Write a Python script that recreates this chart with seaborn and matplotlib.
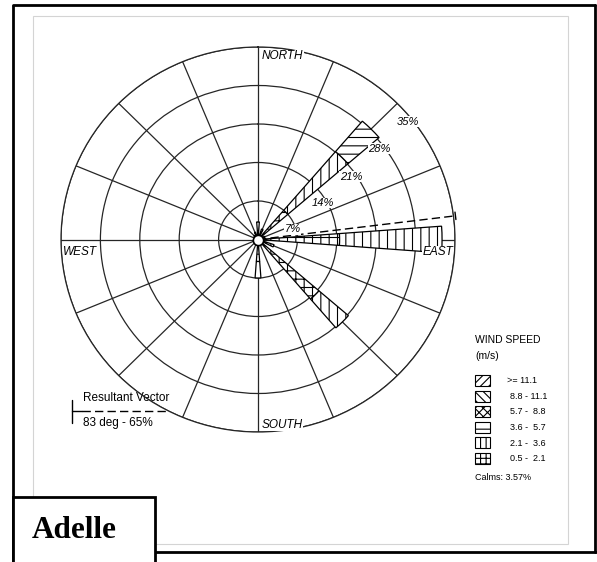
import numpy as np
import matplotlib
matplotlib.use("Agg")
import matplotlib.pyplot as plt
from matplotlib.patches import Rectangle
import seaborn as sns

# ---- data -----------------------------------------------------------------
directions = ["N", "NNE", "NE", "ENE", "E", "ESE", "SE", "SSE",
              "S", "SSW", "SW", "WSW", "W", "WNW", "NW", "NNW"]
# frequency (%) of each wind-speed class per direction (innermost class first)
freq_05_21 = [1.5, 1.0, 7.0, 0.8, 14.5, 1.5, 14.3, 0.7, 4.0, 0.4, 0.3, 0.2, 0.3, 0.3, 0.6, 0.8]
freq_21_36 = [1.7, 1.0, 14.1, 0.5, 18.2, 1.5, 6.9, 0.4, 3.0, 0.0, 0.0, 0.0, 0.0, 0.0, 0.4, 0.6]
freq_36_57 = [0.0, 0.0, 7.3, 0.0, 0.0, 0.0, 0.0, 0.0, 0.0, 0.0, 0.0, 0.0, 0.0, 0.0, 0.0, 0.0]
freq_57_88 = [0.0] * 16
freq_88_111 = [0.0] * 16
freq_ge_111 = [0.0] * 16

class_labels = ["0.5 -  2.1", "2.1 -  3.6", "3.6 -  5.7", "5.7 -  8.8", "8.8 - 11.1", ">= 11.1"]
class_hatches = ["++", "||", "--", "xxx", "\\\\\\", "///"]
legend_hatches = ["+++", "|||", "--", "xxxx", "\\\\\\\\", "////"]
class_freqs = [freq_05_21, freq_21_36, freq_36_57, freq_57_88, freq_88_111, freq_ge_111]

ring_levels = [7, 14, 21, 28, 35]
ring_label_theta = [72.8, 60.2, 55.4, 52.6, 51.2]
ring_label_r = [6.4, 13.35, 20.1, 27.2, 34.2]

calms_pct = 3.57
resultant_deg = 83
resultant_pct = 65
station = "Adelle"

# ---- style ----------------------------------------------------------------
sns.set_theme(style="white")
plt.rcParams["font.family"] = ["Liberation Sans", "DejaVu Sans"]
plt.rcParams["text.color"] = "black"
plt.rcParams["hatch.linewidth"] = 0.8
plt.rcParams["hatch.color"] = "black"

W, H = 597, 562
fig = plt.figure(figsize=(W / 100, H / 100), dpi=100)
fig.patch.set_facecolor("white")

# page-level layer in pixel units for frames and the legend
page = fig.add_axes([0, 0, 1, 1], zorder=0)
page.set_xlim(0, W)
page.set_ylim(H, 0)
page.axis("off")

# outer frame
page.plot([13, 13], [5, 562], color="black", lw=2, solid_capstyle="butt")
page.plot([13, 595], [5, 5], color="black", lw=2)
page.plot([595, 595], [5, 552], color="black", lw=2)
page.plot([155, 597], [552, 552], color="black", lw=2)
# inner light frame
page.add_patch(Rectangle((33, 16), 535, 528, fill=False, ec="#d4d4d4", lw=0.8))
# station box
page.add_patch(Rectangle((13, 497), 142, 70, fc="white", ec="black", lw=2, zorder=3))
page.text(32, 530, station, fontsize=22.5, fontweight="bold", color="black",
          family=["Liberation Serif", "DejaVu Serif"], ha="left", va="center", zorder=4)

# ---- wind rose --------------------------------------------------------------
cx, cy, rx, ry = 258, 239.5, 197, 192.5
ax = fig.add_axes([(cx - rx) / W, (H - cy - ry) / H, 2 * rx / W, 2 * ry / H],
                  projection="polar", zorder=1)
ax.set_aspect("auto")
ax.patch.set_alpha(0)
ax.set_theta_zero_location("N")
ax.set_theta_direction(-1)
ax.set_ylim(0, ring_levels[-1])
ax.set_rgrids(ring_levels, labels=[])
ax.set_thetagrids(np.arange(0, 360, 22.5), labels=[])
ax.grid(True, color="#262626", lw=0.9)
ax.spines["polar"].set_color("#262626")
ax.spines["polar"].set_linewidth(0.9)
ax.set_axisbelow(True)

theta = np.deg2rad(np.arange(16) * 22.5)
width = np.deg2rad(8.5)
bottom = np.zeros(16)
for freqs, hatch in zip(class_freqs, class_hatches):
    vals = np.array(freqs)
    mask = vals > 0
    if mask.any():
        ax.bar(theta[mask], vals[mask], width=width, bottom=bottom[mask],
               facecolor="white", edgecolor="black", linewidth=0.9,
               hatch=hatch, zorder=2)
    bottom = bottom + vals

# resultant vector with an end tick
tr = np.deg2rad(resultant_deg)
r_end = ring_levels[-1] + 0.35
ax.plot([tr, tr], [0, r_end], color="black", lw=1.0,
        ls=(0, (6, 3)), zorder=3, clip_on=False)
dtk = np.deg2rad(1.1)
ax.plot([tr - dtk, tr + dtk], [r_end, r_end], color="black", lw=1.0,
        zorder=3, clip_on=False)

# calms circle
ax.scatter([0], [0], s=55, facecolor="white", edgecolor="black", linewidth=1.2, zorder=5)

# ring labels
for lvl, th, r in zip(ring_levels, ring_label_theta, ring_label_r):
    ax.text(np.deg2rad(th), r, f"{lvl}%", fontsize=8, style="italic",
            ha="center", va="center", zorder=6,
            bbox=dict(fc="white", ec="none", pad=0.3))

# compass labels, drawn above the rose
lab_kw = dict(fontsize=8.5, style="italic", zorder=5, transform=page.transData,
              bbox=dict(fc="white", ec="none", pad=0.2))
fig.text(262, 50, "NORTH", ha="left", va="top", **lab_kw)
fig.text(262, 431, "SOUTH", ha="left", va="bottom", **lab_kw)
fig.text(63, 246, "WEST", ha="left", va="top", **lab_kw)
fig.text(453, 246, "EAST", ha="right", va="top", **lab_kw)

# ---- wind speed legend -------------------------------------------------------
page.text(475, 340, "WIND SPEED", fontsize=7.5, ha="left", va="center")
page.text(475, 356, "(m/s)", fontsize=7.5, ha="left", va="center")
row_top = 375
for i, (lab, hatch) in enumerate(zip(class_labels[::-1], legend_hatches[::-1])):
    y = row_top + i * 15.6
    page.add_patch(Rectangle((475, y), 15, 11, facecolor="white", edgecolor="black",
                             lw=0.8, hatch=hatch))
    page.text(507 if lab.startswith(">") else 510, y + 5.8, lab, fontsize=6.5,
              ha="left", va="center")
page.text(475, 478, f"Calms: {calms_pct:.2f}%", fontsize=6.5, ha="left", va="center")

# resultant vector legend
page.plot([72, 72], [400, 423], color="black", lw=1)
page.plot([72, 82], [411, 411], color="black", lw=1)
page.plot([82, 167], [411, 411], color="black", lw=1, ls=(0, (6, 3)))
page.text(83, 398, "Resultant Vector", fontsize=8.5, ha="left", va="center")
page.text(83, 423, f"{resultant_deg} deg - {resultant_pct}%", fontsize=8.5,
          ha="left", va="center")

fig.savefig("out.png", dpi=100, facecolor="white")
